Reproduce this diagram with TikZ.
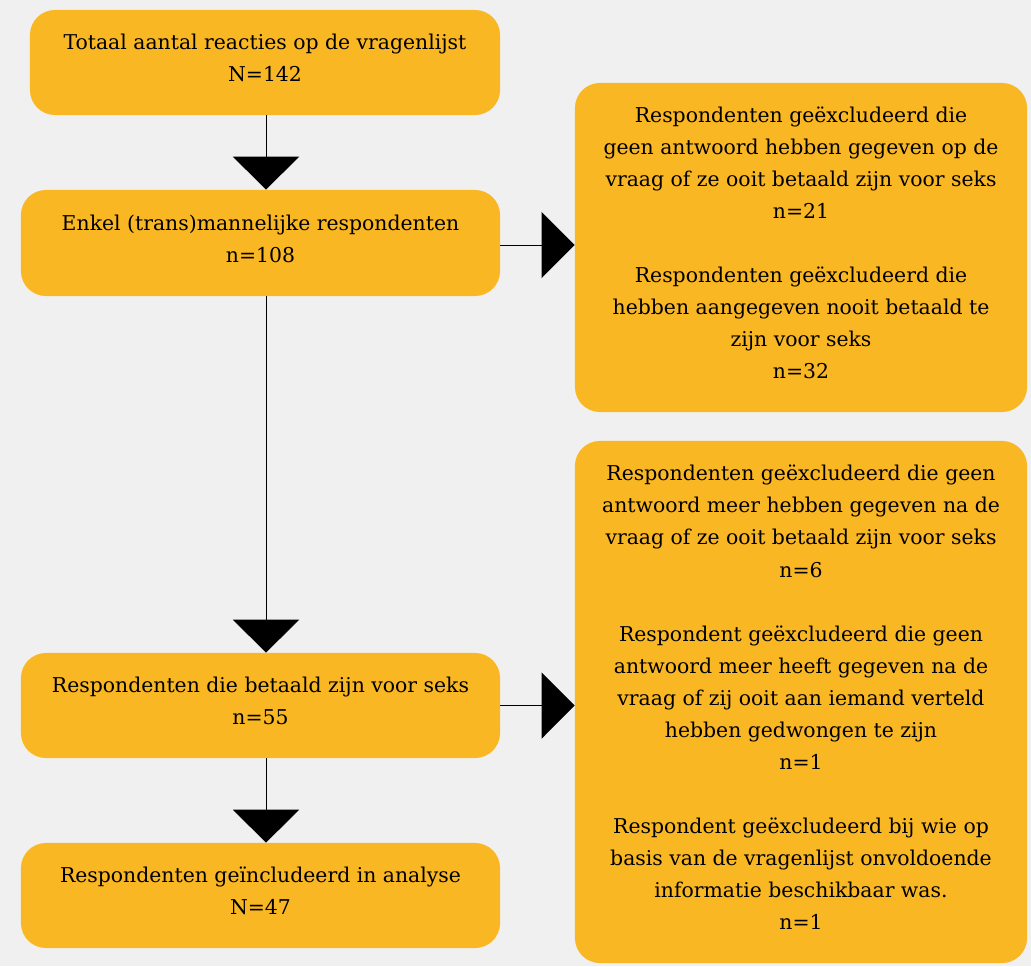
\documentclass[tikz,border=0pt]{standalone}
\usepackage{fontspec}
\setmainfont{DejaVu Serif}
\usetikzlibrary{arrows.meta}
\definecolor{boxorange}{HTML}{F9B723}
\definecolor{bggray}{HTML}{F0F0F0}
\tikzset{
  flowbox/.style={rectangle, rounded corners=0.625cm, fill=boxorange, align=center,
    inner sep=0pt, text depth=6.5pt, font=\fontsize{14.5}{22.8}\selectfont},
  flowarrow/.style={line width=0.6pt, -{Triangle[width=1.65cm, length=0.825cm]}}
}
\begin{document}
\begin{tikzpicture}[x=0.025cm, y=-0.025cm]
\fill[bggray] (0,0) rectangle (1031,966);
\node[flowbox, minimum width=11.75cm, minimum height=2.625cm] (tot) at (265,62.5) {Totaal aantal reacties op de vragenlijst\\N=142};
\node[flowbox, minimum width=11.975cm, minimum height=2.65cm] (man) at (260.5,243) {Enkel (trans)mannelijke respondenten\\n=108};
\node[flowbox, minimum width=11.975cm, minimum height=2.625cm] (bet) at (260.5,705.5) {Respondenten die betaald zijn voor seks\\n=55};
\node[flowbox, minimum width=11.975cm, minimum height=2.625cm] (inc) at (260.5,895.5) {Respondenten geïncludeerd in analyse\\N=47};
\node[flowbox, minimum width=11.3cm, minimum height=8.225cm] (exa) at (801,247.5) {Respondenten geëxcludeerd die\\geen antwoord hebben gegeven op de\\vraag of ze ooit betaald zijn voor seks\\n=21\\[22.8pt]Respondenten geëxcludeerd die\\hebben aangegeven nooit betaald te\\zijn voor seks\\n=32};
\node[flowbox, minimum width=11.3cm, minimum height=13.05cm] (exb) at (801,702) {Respondenten geëxcludeerd die geen\\antwoord meer hebben gegeven na de\\vraag of ze ooit betaald zijn voor seks\\n=6\\[22.8pt]Respondent geëxcludeerd die geen\\antwoord meer heeft gegeven na de\\vraag of zij ooit aan iemand verteld\\hebben gedwongen te zijn\\n=1\\[22.8pt]Respondent geëxcludeerd bij wie op\\basis van de vragenlijst onvoldoende\\informatie beschikbaar was.\\n=1};
\draw[flowarrow] ([xshift=0.025cm]tot.south) -- ([xshift=0.025cm]tot.south |- man.north);
\draw[flowarrow] ([xshift=0.025cm]tot.south |- man.south) -- ([xshift=0.025cm]tot.south |- bet.north);
\draw[flowarrow] ([xshift=0.025cm]tot.south |- bet.south) -- ([xshift=0.025cm]tot.south |- inc.north);
\draw[flowarrow] ([yshift=-0.05cm]man.east) -- ([yshift=-0.05cm]man.east -| exa.west);
\draw[flowarrow] (bet.east) -- (bet.east -| exb.west);
\end{tikzpicture}
\end{document}
